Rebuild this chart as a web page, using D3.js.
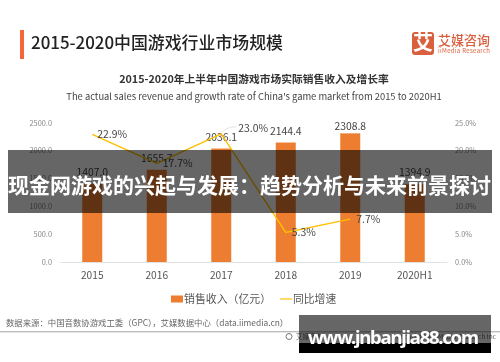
<!DOCTYPE html>
<html>
<head>
<meta charset="utf-8">
<script src="https://cdn.jsdelivr.net/npm/d3@7"></script>
<style>
    html, body { margin: 0; padding: 0; background: #fff; }
    svg { display: block; filter: blur(0.3px); }
    text { font-family: "Noto Sans CJK SC", "Noto Sans", sans-serif; }
</style>
</head>
<body>
<div id="chart"></div>
<script>
const years = ["2015", "2016", "2017", "2018", "2019", "2020H1"];
const revenue = [1407.0, 1655.7, 2036.1, 2144.4, 2308.8, 1394.9];
const growthYears = ["2015", "2016", "2017", "2018", "2019"];
const growth = [22.9, 17.7, 23.0, 5.3, 7.7];
const revenueTicks = [0, 500, 1000, 1500, 2000, 2500];
const growthTicks = [0, 5, 10, 15, 20, 25];

const width = 500;
const height = 362;

const svg = d3.select("#chart").append("svg")
    .attr("width", width)
    .attr("height", height)
    .attr("viewBox", `0 0 ${width} ${height}`);

// header
svg.append("rect").attr("x", 20).attr("y", 30).attr("width", 4).attr("height", 29).attr("fill", "#f5673a");
svg.append("text").attr("x", 31).attr("y", 49).attr("font-size", 16.9).attr("font-weight", 500).attr("fill", "#222")
    .text("2015-2020中国游戏行业市场规模");

// logo
svg.append("rect").attr("x", 412).attr("y", 32).attr("width", 22).attr("height", 23).attr("rx", 3).attr("fill", "#d9603f");
svg.append("text").attr("x", 423).attr("y", 50).attr("text-anchor", "middle").attr("font-size", 20).attr("font-weight", 700).attr("fill", "#fff").text("艾");
svg.append("text").attr("x", 438).attr("y", 45).attr("font-size", 13).attr("font-weight", 500).attr("fill", "#d9603f").text("艾媒咨询");
svg.append("text").attr("x", 438).attr("y", 53).attr("font-size", 6).attr("textLength", 52).attr("fill", "#d9603f").text("iiMedia Research");

svg.append("text").attr("x", 254).attr("y", 83).attr("text-anchor", "middle").attr("font-size", 10.75).attr("font-weight", 700).attr("fill", "#333")
    .text("2015-2020年上半年中国游戏市场实际销售收入及增长率");
svg.append("text").attr("x", 254).attr("y", 100).attr("text-anchor", "middle").attr("font-size", 9.4).attr("fill", "#444")
    .text("The actual sales revenue and growth rate of China's game market from 2015 to 2020H1");

// scales
const x = d3.scaleBand().domain(years).range([60, 447]);
const yLeft = d3.scaleLinear().domain([0, 2500]).range([262, 122.7]);
const yRight = d3.scaleLinear().domain([0, 25]).range([262, 122.7]);
const barWidth = 20;
const cx = d => x(d) + x.bandwidth() / 2;

// axes
const leftAxis = svg.append("g").attr("transform", "translate(60,0)")
    .call(d3.axisLeft(yLeft).tickValues(revenueTicks).tickFormat(d3.format(".1f")).tickSize(0).tickPadding(8));
const rightAxis = svg.append("g").attr("transform", "translate(447,0)")
    .call(d3.axisRight(yRight).tickValues(growthTicks).tickFormat(d => d.toFixed(1) + "%").tickSize(0).tickPadding(8));
const bottomAxis = svg.append("g").attr("transform", "translate(0,262)")
    .call(d3.axisBottom(x).tickSize(0).tickPadding(10));

leftAxis.select(".domain").remove();
rightAxis.select(".domain").remove();
bottomAxis.select(".domain").attr("stroke", "#e3e3e3");
leftAxis.selectAll("text").attr("font-size", 7.4).attr("fill", "#888").style("font-family", "'Noto Sans CJK SC'");
rightAxis.selectAll("text").attr("font-size", 7.4).attr("fill", "#888").style("font-family", "'Noto Sans CJK SC'");
bottomAxis.selectAll("text").attr("font-size", 10.2).attr("fill", "#555").style("font-family", "'Noto Sans CJK SC'");

// bars
svg.selectAll(".bar")
    .data(years)
    .join("rect")
    .attr("class", "bar")
    .attr("x", d => cx(d) - barWidth / 2)
    .attr("width", barWidth)
    .attr("y", (d, i) => yLeft(revenue[i]))
    .attr("height", (d, i) => 262 - yLeft(revenue[i]))
    .attr("fill", "#ed7d31");

// bar labels, 2019 sits closer to its bar
svg.selectAll(".bar-label")
    .data(years)
    .join("text")
    .attr("class", "bar-label")
    .attr("x", d => cx(d))
    .attr("y", (d, i) => yLeft(revenue[i]) - (d === "2019" ? 3 : 8))
    .attr("text-anchor", "middle")
    .attr("font-size", 10.4)
    .attr("fill", "#444")
    .text((d, i) => revenue[i].toFixed(1));

// growth line
const line = d3.line()
    .x((d, i) => cx(growthYears[i]))
    .y(d => yRight(d));

// leader from the 2017 point to its label
svg.append("path")
    .attr("d", d3.line().curve(d3.curveBasis)([[cx("2017") + 1, yRight(23) - 2], [cx("2017") + 8, yRight(23) - 7], [cx("2017") + 15, yRight(23) - 7]]))
    .attr("fill", "none")
    .attr("stroke", "#d9d9d9")
    .attr("stroke-width", 0.8);

svg.append("path")
    .datum(growth)
    .attr("d", line)
    .attr("fill", "none")
    .attr("stroke", "#ffc000")
    .attr("stroke-width", 1.4);

const labelShift = { "2015": [5, 0], "2016": [6, 0], "2017": [17, -6], "2018": [6, 0], "2019": [6, 0] };

svg.selectAll(".growth-label")
    .data(growthYears)
    .join("text")
    .attr("class", "growth-label")
    .attr("x", d => cx(d) + labelShift[d][0])
    .attr("y", (d, i) => yRight(growth[i]) + labelShift[d][1])
    .attr("dy", "0.36em")
    .attr("font-size", 10.4)
    .attr("fill", "#444")
    .text((d, i) => growth[i].toFixed(1) + "%");

// legend
svg.append("rect").attr("x", 171).attr("y", 295.5).attr("width", 12).attr("height", 7).attr("fill", "#ed7d31");
svg.append("text").attr("x", 184).attr("y", 303).attr("font-size", 10.9).attr("fill", "#555").text("销售收入（亿元）");
svg.append("line").attr("x1", 280).attr("x2", 292).attr("y1", 299).attr("y2", 299).attr("stroke", "#ffc000").attr("stroke-width", 1.2);
svg.append("text").attr("x", 293).attr("y", 303).attr("font-size", 10.8).attr("fill", "#555").text("同比增速");

// footer
svg.append("text").attr("x", 6).attr("y", 326).attr("font-size", 8.4).attr("fill", "#666")
    .text("数据来源：中国音数协游戏工委（GPC），艾媒数据中心（data.iimedia.cn）");
svg.append("rect").attr("x", 0).attr("y", 331).attr("width", width).attr("height", 1.4).attr("fill", "#bdbdbd");
svg.append("text").attr("x", 296).attr("y", 339).attr("font-size", 6.5).attr("fill", "#666").text("艾媒咨询");
svg.append("text").attr("x", 496).attr("y", 339).attr("text-anchor", "end").attr("font-size", 6.5).attr("fill", "#666").text("Copyright © iiMedia Research Inc");
svg.append("circle").attr("cx", 289).attr("cy", 336.5).attr("r", 3).attr("fill", "none").attr("stroke", "#777").attr("stroke-width", 1);

// overlays on top of the chart
svg.append("rect").attr("x", 8).attr("y", 150).attr("width", 484).attr("height", 63).attr("fill", "#000").attr("opacity", 0.6);
svg.append("text").attr("x", 8).attr("y", 192.5).attr("font-size", 21).attr("font-weight", 700).attr("fill", "#fff")
    .text("现金网游戏的兴起与发展：趋势分析与未来前景探讨");

svg.append("rect").attr("x", 299).attr("y", 315).attr("width", 192).attr("height", 28).attr("fill", "#000").attr("opacity", 0.6);
svg.append("rect").attr("x", 299).attr("y", 343).attr("width", 192).attr("height", 10).attr("fill", "#000");
svg.append("text").attr("x", 308).attr("y", 344).attr("font-size", 18.5).attr("font-weight", 700).attr("textLength", 171).attr("fill", "#fff")
    .style("font-family", "'Noto Sans', sans-serif")
    .text("www.jnbanjia88.com");
</script>
</body>
</html>
